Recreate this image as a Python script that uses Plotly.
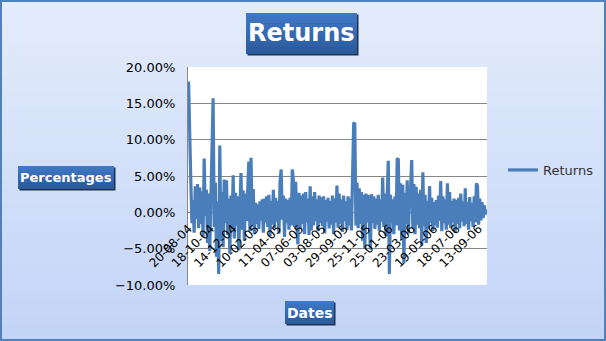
import plotly.graph_objects as go

# ---------------- data (daily returns, %) ----------------
returns_pct = [
    18.0, 13.0, 4.4, -1.5, 1.7, -2.8, 3.6, -0.9, 3.9, -2.2,
    3.4, -1.6, 2.9, -3.4, 7.4, -0.5, 3.1, -4.2, 2.6, -5.3,
    3.5, 10.9, 15.7, -2.0, 4.1, -6.1, 1.5, -8.5, 9.2, -3.9,
    2.8, -4.8, 4.5, -1.5, 4.4, -3.1, 1.9, -5.7, 2.3, -2.1,
    5.1, -3.6, 2.7, -1.8, 2.2, -5.2, 1.6, 5.4, -2.4, 3.0,
    -3.9, 2.6, -1.2, 1.9, 7.0, -2.6, 7.5, -1.9, 3.2, -3.0,
    1.3, -1.6, 1.1, -2.3, 1.5, -1.1, 1.8, -2.8, 1.9, -1.4,
    2.2, -2.0, 2.4, -3.3, 1.6, -1.7, 3.1, -2.2, 2.0, -1.3,
    1.6, -2.9, 4.2, 5.9, -1.0, 2.3, -3.4, 1.9, -1.5, 1.7,
    -2.4, 2.0, -1.8, 5.9, 4.4, -2.0, 4.2, -1.3, -4.4, 2.7,
    -2.2, 2.3, -1.6, 2.6, -3.0, 2.8, -1.4, 1.9, -3.1, 3.6,
    -2.5, 2.2, -1.8, 2.8, -1.2, 1.8, -2.6, 2.3, -1.5, 2.1,
    -1.9, 2.2, -2.9, 1.7, -1.3, 2.0, -2.2, 1.6, -1.7, 2.3,
    -3.0, 1.9, -1.4, 3.7, -2.1, 2.6, -1.6, 1.8, -2.7, 2.3,
    -1.2, 1.5, -2.4, 2.2, -1.8, 1.9, -2.5, 4.9, 12.2, 12.3,
    -1.8, 4.1, -2.2, 3.3, -1.6, 2.8, -3.9, 2.4, -5.0, 2.6,
    -1.4, 2.4, -2.0, -5.1, 2.5, -1.5, 2.2, -2.3, 1.9, -1.7,
    2.4, -2.6, 1.8, -1.3, 4.8, -2.0, 2.6, -3.3, 1.9, 7.1,
    -8.5, 2.4, -1.5, 1.8, -3.0, 2.2, -1.8, 7.3, 7.4, -2.5,
    4.0, -3.8, 3.8, -7.0, 2.7, -1.6, 4.4, -2.9, 1.8, 3.4,
    7.2, -2.2, 3.9, -3.0, 3.5, -1.7, 2.6, -2.2, 3.1, -4.6,
    5.5, -1.9, 2.4, -4.2, 1.6, -2.3, 3.6, -1.5, 2.0, -2.6,
    1.4, -1.8, 1.7, -2.1, 2.3, -1.2, 4.3, -2.6, 2.2, -1.5,
    1.8, -2.4, 4.0, -1.7, 2.8, -2.2, 1.6, -1.4, 1.9, -2.8,
    1.7, -1.6, 2.0, -2.2, 2.6, -1.3, 1.5, -1.9, 3.3, -1.6,
    1.4, -2.4, 2.1, -1.2, 1.3, -2.0, 2.2, -1.4, 4.0, 3.6,
    -1.7, 1.9, -1.1, 1.4, -0.8, 1.0, -0.3, 0.4,
]
tick_labels = [
    "20-08-04", "18-10-04", "14-12-04", "10-02-05", "11-04-05", "07-06-05",
    "03-08-05", "29-09-05", "25-11-05", "25-01-06", "23-03-06", "19-05-06",
    "18-07-06", "13-09-06",
]
tick_step = 20
series_name = "Returns"

returns = [v / 100 for v in returns_pct]
x_idx = list(range(len(returns)))
tick_vals = [i * tick_step for i in range(len(tick_labels))]

# ---------------- layout helpers (pixel -> paper) ----------------
W, H = 606, 341
L, R, T, B = 188, 487, 67, 285


def px(x):
    return (x - L) / (R - L)


def py(y):
    return (B - y) / (B - T)


def mix(c1, c2, t):
    a = [int(c1[i:i + 2], 16) for i in (1, 3, 5)]
    b = [int(c2[i:i + 2], 16) for i in (1, 3, 5)]
    return "#" + "".join("%02x" % round(a[k] + (b[k] - a[k]) * t) for k in range(3))


shapes = []


def grad_rect(x0, y0, x1, y1, ctop, cbot, n, layer):
    h = (y1 - y0) / n
    for i in range(n):
        ya = y0 + h * i
        yb = min(y1, ya + h + 0.6)
        shapes.append(dict(type="rect", xref="paper", yref="paper",
                           x0=px(x0), x1=px(x1), y0=py(yb), y1=py(ya),
                           fillcolor=mix(ctop, cbot, i / max(1, n - 1)),
                           line=dict(width=0), layer=layer))


# background gradient
grad_rect(0, 0, W, H, "#e3ecfb", "#c2d4f7", 40, "below")
# white plot area
shapes.append(dict(type="rect", xref="paper", yref="paper", x0=0, x1=1, y0=0, y1=1,
                   fillcolor="white", line=dict(width=0), layer="below"))

annotations = []


def label_box(x0, y0, x1, y1, text, size):
    shapes.append(dict(type="rect", xref="paper", yref="paper",
                       x0=px(x0 + 1.5), x1=px(x1 + 1.5), y0=py(y1 + 1.5), y1=py(y0 + 1.5),
                       fillcolor="#1d3350", line=dict(width=0), layer="above"))
    grad_rect(x0, y0, x1, y1, "#3f78c6", "#2c5b9c", 12, "above")
    annotations.append(dict(xref="paper", yref="paper", x=px((x0 + x1) / 2),
                            y=py((y0 + y1) / 2), text="<b>%s</b>" % text, showarrow=False,
                            xanchor="center", yanchor="middle",
                            font=dict(family="DejaVu Sans", size=size, color="white")))


label_box(246, 13, 357, 54, "Returns", 24)
label_box(18, 166, 114, 189, "Percentages", 13)
label_box(285, 301, 334, 324, "Dates", 14)

# outer border
shapes.append(dict(type="rect", xref="paper", yref="paper", x0=px(1), x1=px(W - 1),
                   y0=py(H - 1), y1=py(1), line=dict(color="#4f81bd", width=2),
                   fillcolor="rgba(0,0,0,0)", layer="above"))

fig = go.Figure()
fig.add_trace(go.Scatter(x=x_idx, y=returns, mode="lines", name=series_name,
                         line=dict(color="#4a7ebb", width=3.2)))

fig.update_layout(
    width=W, height=H, autosize=False,
    margin=dict(l=L, r=W - R, t=T, b=H - B, pad=0, autoexpand=False),
    paper_bgcolor="#d4e2f9", plot_bgcolor="white",
    font=dict(family="DejaVu Sans", color="black"),
    shapes=shapes, annotations=annotations,
    showlegend=True,
    legend=dict(x=px(503), xanchor="left", y=py(170), yanchor="middle",
                bgcolor="rgba(0,0,0,0)", font=dict(size=13, color="#333333")),
    xaxis=dict(range=[-0.5, len(returns) - 0.5], anchor="free", position=1 / 3,
               tickmode="array", tickvals=tick_vals, ticktext=tick_labels,
               tickangle=-45, tickfont=dict(size=12, color="black"),
               showgrid=False, showline=False, zeroline=False, ticks="",
               ticklabelstandoff=6),
    yaxis=dict(range=[-0.1, 0.2], dtick=0.05, tick0=0, tickformat=".2%",
               showgrid=True, gridcolor="#878787", gridwidth=1,
               showline=True, linecolor="#878787", linewidth=1,
               zeroline=False, ticks="", ticklabelstandoff=9,
               tickfont=dict(size=13, color="black")),
)

fig.write_html("out.html")
